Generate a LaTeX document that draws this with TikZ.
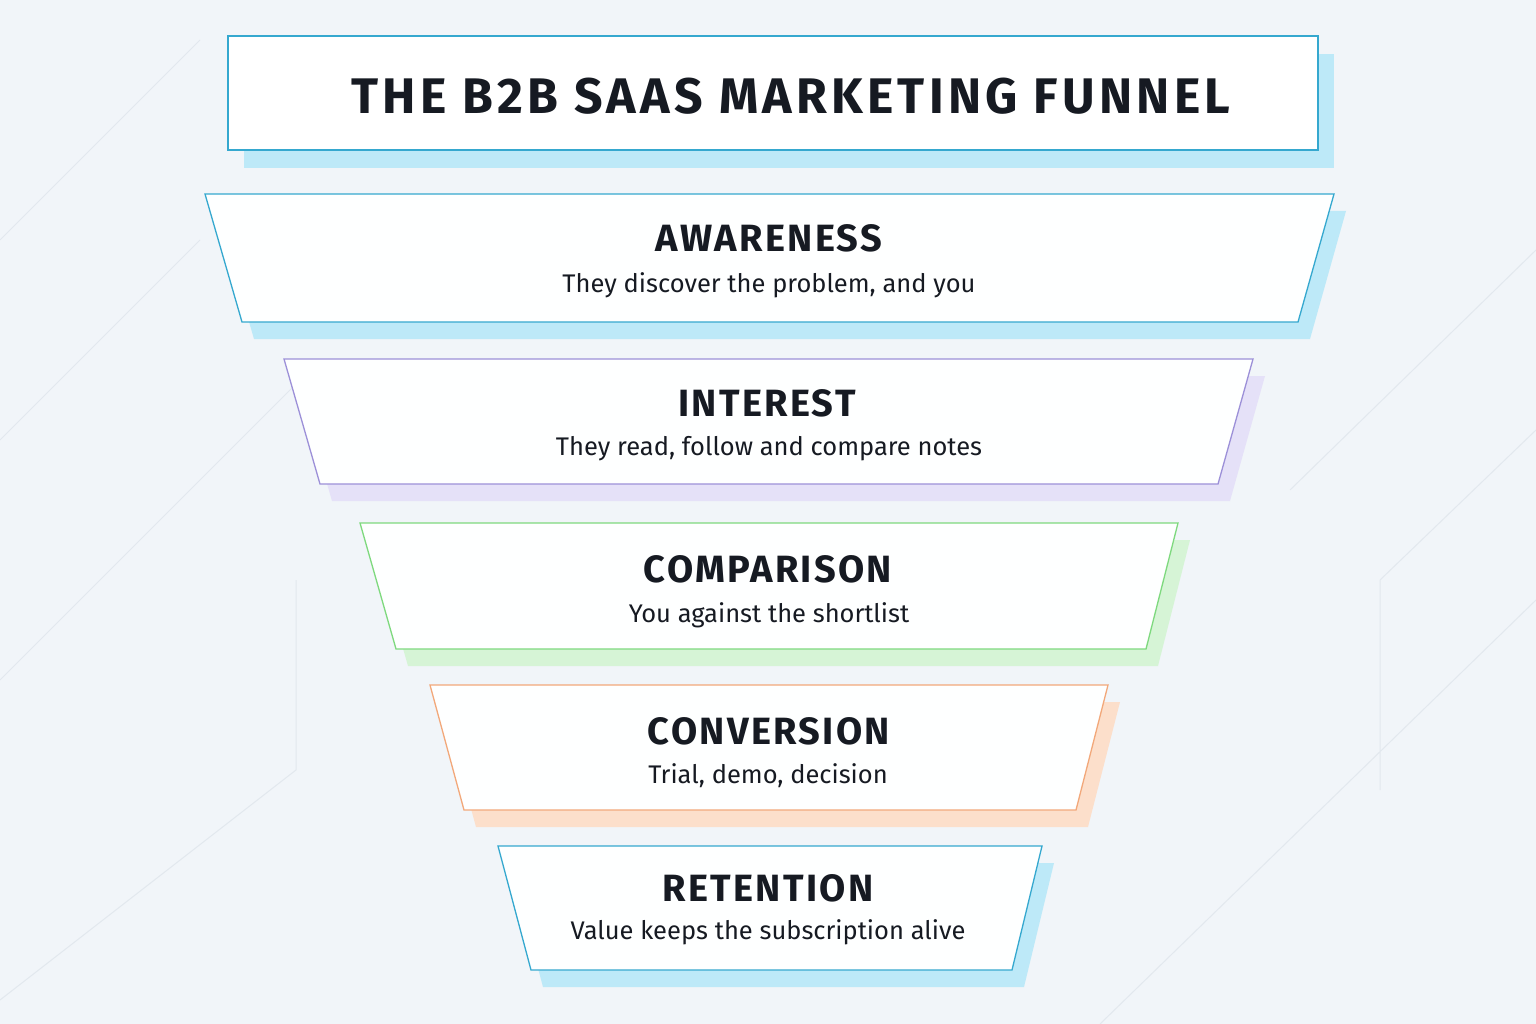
\documentclass[tikz,border=0pt]{standalone}
\usepackage{fontspec}
\setmainfont{Fira Sans}
\newfontfamily\spaced{Fira Sans}[LetterSpace=6]
\newfontfamily\tspaced{Fira Sans}[LetterSpace=8.5]
\definecolor{bg}{HTML}{F1F5F9}
\definecolor{cy}{HTML}{35A8CF}
\definecolor{cys}{HTML}{BDE9F8}
\definecolor{pu}{HTML}{9C90D8}
\definecolor{pus}{HTML}{E5E1F8}
\definecolor{gr}{HTML}{7ED97E}
\definecolor{grs}{HTML}{D6F4D6}
\definecolor{orn}{HTML}{F2A87A}
\definecolor{ors}{HTML}{FCDFCB}
\definecolor{ink}{HTML}{161A22}
\definecolor{faint}{HTML}{E2E8EE}
\begin{document}
\begin{tikzpicture}[x=1pt,y=-1pt,
  head/.style={font=\spaced\fontsize{38}{40}\selectfont\bfseries, text=ink},
  sub/.style={font=\fontsize{25.5}{28}\selectfont, text=ink},
  card/.style={draw, line width=1.3pt}]
\useasboundingbox (0,0) rectangle (1536,1024);
\fill[bg] (0,0) rectangle (1536,1024);
\draw[faint, line width=1pt] (0,240) -- (200,40) (0,440) -- (200,240) (0,680) -- (300,380) (296,580) -- (296,770) -- (0,1000)
  (1380,580) -- (1536,430) (1380,580) -- (1380,790) (1290,490) -- (1536,250) (1100,1024) -- (1536,600);
% title
\fill[cys] (244,54) rectangle (1334,168);
\draw[card, draw=cy, fill=white] (228,36) rectangle (1318,150);
\node[font=\tspaced\fontsize{50}{54}\selectfont\bfseries, text=ink] (title) at (791,96) {THE B2B SAAS MARKETING FUNNEL};
% stages
\foreach \tl/\tr/\bl/\br/\yt/\yb/\c/\s/\n in {
  205/1334/242/1298/194/322/cy/cys/1,
  284/1253/320/1218/359/484/pu/pus/2,
  360/1178/396/1146/523/649/gr/grs/3,
  430/1108/464/1076/685/810/orn/ors/4,
  498/1042/531/1012/846/970/cy/cys/5}{
  \fill[\s] (\tl+12,\yt+17) -- (\tr+12,\yt+17) -- (\br+12,\yb+17) -- (\bl+12,\yb+17) -- cycle;
  \draw[card, draw=\c, fill=white!96!bg] (\tl,\yt) -- (\tr,\yt) -- (\br,\yb) -- (\bl,\yb) -- cycle;
}
\node[head] (h1) at (769,238) {AWARENESS};
\node[sub] (s1) at (769,285) {They discover the problem, and you};
\node[head] (h2) at (767,403) {INTEREST};
\node[sub] (s2) at (769,449) {They read, follow and compare notes};
\node[head] (h3) at (768,569) {COMPARISON};
\node[sub] (s3) at (769,615) {You against the shortlist};
\node[head] (h4) at (769,731) {CONVERSION};
\node[sub] (s4) at (768,776) {Trial, demo, decision};
\node[head] (h5) at (768,888) {RETENTION};
\node[sub] (s5) at (768,932) {Value keeps the subscription alive};
\end{tikzpicture}
\end{document}
